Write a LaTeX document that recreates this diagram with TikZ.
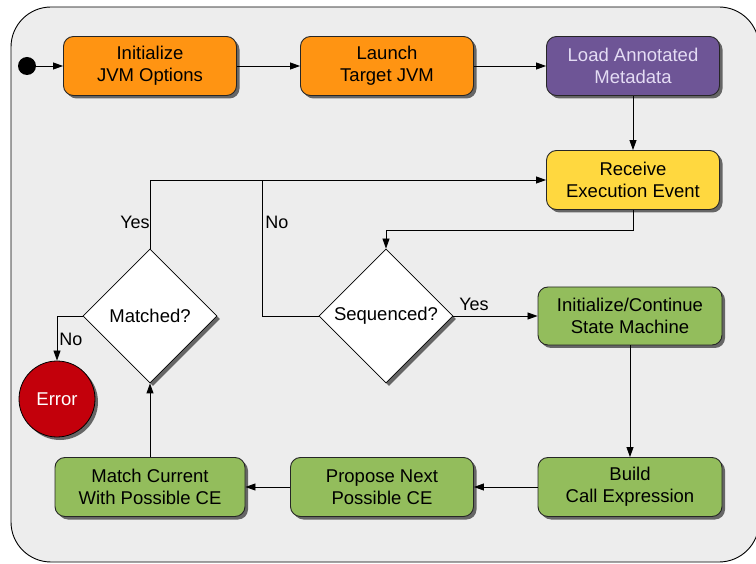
\documentclass[tikz,border=0pt]{standalone}
\usepackage{fontspec}
\setmainfont{Liberation Sans}
\usetikzlibrary{shapes.geometric,arrows.meta,shadows}
\definecolor{bgc}{HTML}{EDEDED}
\definecolor{orangec}{HTML}{FF9412}
\definecolor{purplec}{HTML}{6E5596}
\definecolor{purpletext}{HTML}{E4DCF4}
\definecolor{yellowc}{HTML}{FFD83F}
\definecolor{greenc}{HTML}{93BD5C}
\definecolor{redc}{HTML}{C3000B}
\tikzset{
  x=1pt,y=-1pt,
  sh/.style={drop shadow={shadow xshift=3pt,shadow yshift=-3pt,fill=black!60,opacity=1}},
  box/.style={draw=black!85,line width=0.9pt,rounded corners=10pt,minimum width=173pt,minimum height=59pt,
     align=center,font=\fontsize{18.5}{22}\selectfont,inner sep=2pt,sh},
  dec/.style={draw=black,line width=0.8pt,diamond,aspect=1,minimum width=134pt,minimum height=134pt,
     inner sep=0pt,fill=white,font=\fontsize{18.5}{22}\selectfont,sh},
  conn/.style={draw=black,line width=0.8pt,-{Triangle[length=10pt,width=7pt]}},
  plain/.style={draw=black,line width=0.8pt},
  lbl/.style={font=\fontsize{18}{20}\selectfont,inner sep=1pt}
}
\begin{document}
\begin{tikzpicture}
\clip (0,0) rectangle (756,564);
\fill[white] (0,0) rectangle (756,564);
\draw[fill=bgc,line width=0.9pt,rounded corners=40pt] (11,7) rectangle (759,562);

\node[circle,fill=black,minimum size=18pt,inner sep=0pt] (start) at (27,66) {};
\node[box,fill=orangec] (init) at (150,66) {Initialize\\JVM Options};
\node[box,fill=orangec] (launch) at (387,66) {Launch\\Target JVM};
\node[box,fill=purplec,text=purpletext] (load) at (633,66) {Load Annotated\\Metadata};
\node[box,fill=yellowc] (recv) at (633,180) {Receive\\Execution Event};
\node[dec] (seq) at (386,316) {Sequenced?};
\node[box,fill=greenc,minimum width=184pt,minimum height=58pt] (state) at (630,316) {Initialize/Continue\\State Machine};
\node[box,fill=greenc,minimum width=184pt] (build) at (630,487) {Build\\Call Expression};
\node[box,fill=greenc,minimum width=183pt] (prop) at (382,487) {Propose Next\\Possible CE};
\node[box,fill=greenc,minimum width=190pt] (match) at (150,487) {Match Current\\With Possible CE};
\node[dec] (mat) at (150,316) {Matched?};
\node[circle,draw=black,line width=0.8pt,fill=redc,minimum size=76pt,inner sep=0pt,text=white,
      font=\fontsize{18.5}{20}\selectfont,sh] (err) at (57,399) {Error};

\coordinate (c1) at (633,230);
\coordinate (c2) at (386,230);
\coordinate (c3) at (262,316);
\coordinate (c4) at (262,180);
\coordinate (c5) at (150,180);
\coordinate (c6) at (57,316);

\draw[conn] (start) -- (init);
\draw[conn] (init) -- (launch);
\draw[conn] (launch) -- (load);
\draw[conn] (load) -- (recv);
\draw[conn] (recv.south) -- (c1) -- (c2) -- (seq.north);
\draw[conn] (seq.west) -- (c3) -- (c4) -- (recv.west);
\draw[plain] (mat.north) -- (c5) -- (c4);
\draw[conn] (seq.east) -- (state.west);
\draw[conn] (state) -- (build);
\draw[conn] (build) -- (prop);
\draw[conn] (prop) -- (match);
\draw[conn] (match.north) -- (mat.south);
\draw[conn] (mat.west) -- (c6) -- (err.north);

\node[lbl] (lno1) at (277,222) {No};
\node[lbl] (lyes1) at (474,304) {Yes};
\node[lbl] (lyes2) at (135,222) {Yes};
\node[lbl] (lno2) at (71,339) {No};
\end{tikzpicture}
\end{document}
